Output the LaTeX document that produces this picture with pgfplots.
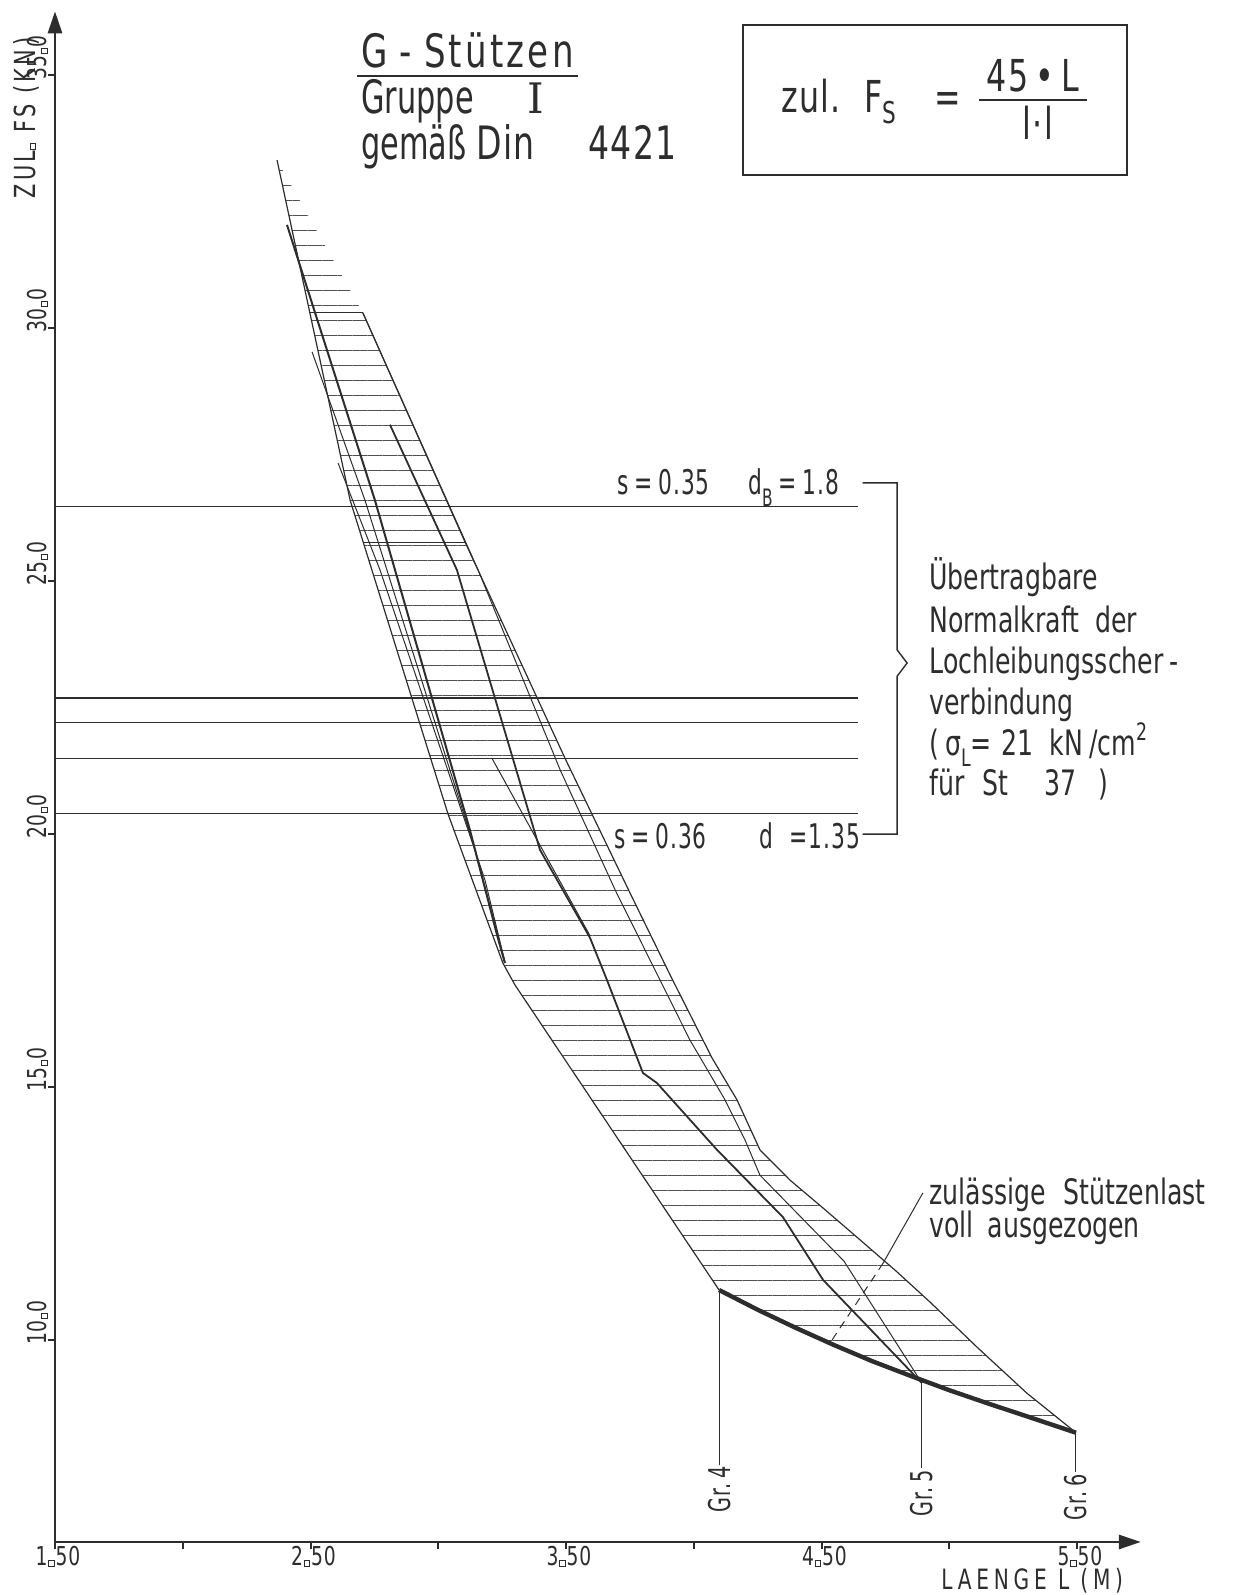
\documentclass[border=0pt]{standalone}
\usepackage{fontspec}
\setmainfont{DejaVu Sans}[FakeStretch=0.72]
\newfontfamily\titlefont{DejaVu Sans}[FakeStretch=0.72,LetterSpace=3]
\newfontfamily\titlewide{DejaVu Sans}[FakeStretch=0.74,LetterSpace=7]
\newfontfamily\titlenarrow{DejaVu Sans}[FakeStretch=0.66]
\newfontfamily\labfont{DejaVu Sans}[FakeStretch=0.64,LetterSpace=3]
\newfontfamily\axisfont{DejaVu Sans}[FakeStretch=0.72,LetterSpace=12]
\newfontfamily\xlabfont{DejaVu Sans}[FakeStretch=0.72,LetterSpace=17]
\newfontfamily\tickfont{DejaVu Sans}[FakeStretch=0.72,LetterSpace=4]
\newfontfamily\seriffont{DejaVu Serif}
\usepackage{pgfplots}
\pgfplotsset{compat=1.18}
\usetikzlibrary{patterns.meta,arrows.meta}
\definecolor{ink}{RGB}{45,45,45}
\definecolor{hatch}{RGB}{80,80,80}
\newcommand{\fs}[1]{\fontsize{#1}{#1}\selectfont}
\newcommand{\sq}{\kern0.4pt{\setlength{\fboxsep}{0pt}\setlength{\fboxrule}{0.5pt}\fbox{\rule{0pt}{2.2pt}\rule{2.2pt}{0pt}}}\kern0.4pt}
\begin{document}
\begin{tikzpicture}
\begin{axis}[
  x=127.75pt, y=25.3pt,
  xmin=1.5, xmax=5.75, ymin=6, ymax=36.25,
  axis x line=bottom, axis y line=left,
  axis line style={line width=1.4pt, ink},
  x axis line style={-{Triangle[length=11pt,width=7pt]}},
  y axis line style={-{Triangle[length=11pt,width=7pt]}},
  xtick={1.5,2,2.5,3,3.5,4,4.5,5,5.5},
  xticklabels={1\sq50,,2\sq50,,3\sq50,,4\sq50,,5\sq50},
  ytick={10,15,20,25,30,35},
  yticklabels={10\sq0,15\sq0,20\sq0,25\sq0,30\sq0,35\sq0},
  tick align=outside, major tick length=3.5pt,
  tick style={line width=1pt, ink},
  xticklabel style={font=\tickfont\fs{13}, text=ink, anchor=north, inner sep=0pt, xshift=1.5pt, yshift=1.5pt},
  yticklabel style={font=\tickfont\fs{13}, text=ink, rotate=90, anchor=south, inner sep=0pt, xshift=8.5pt},
  clip=false,
]
% hatched band
\addplot[draw=none, pattern={Lines[angle=0,distance=7.5pt,line width=0.45pt]}, pattern color=hatch] coordinates {
 (2.369,33.31) (2.655,26.59) (3.038,20.39) (3.253,17.44) (3.300,17.01) (4.099,10.98)
 (4.25,10.59) (4.40,10.23) (4.55,9.89) (4.70,9.57) (4.85,9.28) (5.00,9.00) (5.15,8.74) (5.30,8.49) (5.496,8.16)
 (5.304,8.94) (5.113,9.83) (4.925,10.74) (4.795,11.34) (4.651,11.97) (4.506,12.60) (4.377,13.15) (4.259,13.75)
 (4.169,14.74) (4.071,15.57) (3.911,17.17) (3.754,18.79) (3.496,21.49) (3.105,25.76) (2.705,30.29) (2.369,33.31)};
% horizontal reference lines
\addplot[ink, line width=0.6pt] coordinates {(1.5,26.47) (4.643,26.47)};
\addplot[ink, line width=0.6pt] coordinates {(1.5,22.68) (4.643,22.68)};
\addplot[ink, line width=0.6pt] coordinates {(1.5,22.20) (4.643,22.20)};
\addplot[ink, line width=0.6pt] coordinates {(1.5,21.49) (4.643,21.49)};
\addplot[ink, line width=0.6pt] coordinates {(1.5,20.39) (4.643,20.39)};
% bracket
\addplot[ink, line width=0.7pt] coordinates {(4.661,26.93) (4.796,26.93) (4.796,23.63) (4.835,23.37) (4.796,23.11) (4.796,19.99) (4.661,19.99)};
% left boundary
\addplot[ink, line width=0.6pt] coordinates {(2.369,33.31) (2.655,26.59) (3.038,20.39) (3.253,17.44) (3.300,17.01) (4.099,10.98)};
\addplot[ink, line width=1pt] coordinates {(2.408,32.03) (2.752,26.59) (3.124,20.07) (3.230,18.00) (3.261,17.44)};
\addplot[ink, line width=0.5pt] coordinates {(2.506,29.52) (2.713,26.59) (3.144,19.68) (3.261,17.46)};
\addplot[ink, line width=0.5pt] coordinates {(2.608,27.32) (2.772,25.21) (3.183,19.08) (3.261,17.46)};
% middle lines to Gr.5
\addplot[ink, line width=0.9pt] coordinates {(2.811,28.08) (3.073,25.21) (3.398,19.68) (3.594,17.94) (3.660,17.11) (3.801,15.27) (3.856,15.07) (4.091,13.75) (4.349,12.42) (4.506,11.18) (4.893,9.14)};
\addplot[ink, line width=0.5pt] coordinates {(2.705,30.29) (3.156,25.21) (3.477,21.26) (3.692,18.89) (3.829,17.50) (3.985,15.92) (4.122,14.74) (4.201,13.94) (4.259,13.25) (4.588,11.55) (4.893,9.14)};
\addplot[ink, line width=0.5pt] coordinates {(3.210,21.49) (3.594,17.98)};
% right boundary
\addplot[ink, line width=0.6pt] coordinates {(2.705,30.29) (3.105,25.76) (3.496,21.49) (3.754,18.79) (3.911,17.17) (4.071,15.57) (4.169,14.74) (4.259,13.75) (4.377,13.15) (4.506,12.60) (4.651,11.97) (4.795,11.34) (4.925,10.74) (5.113,9.83) (5.304,8.94) (5.496,8.16)};
% caps
\addplot[ink, line width=0.6pt] coordinates {(2.498,30.29) (2.705,30.29)};
\addplot[ink, line width=0.6pt] coordinates {(2.705,25.76) (3.105,25.76)};
% permissible load curve (bold)
\addplot[ink, line width=2.2pt] coordinates {(4.099,10.98) (4.25,10.59) (4.40,10.23) (4.55,9.89) (4.70,9.57) (4.85,9.28) (5.00,9.00) (5.15,8.74) (5.30,8.49) (5.496,8.16)};
% group verticals
\addplot[ink, line width=0.5pt] coordinates {(4.099,10.98) (4.099,7.52)};
\addplot[ink, line width=0.5pt] coordinates {(4.893,9.14) (4.893,7.46)};
\addplot[ink, line width=0.5pt] coordinates {(5.496,8.16) (5.496,7.38)};
% leader
\addplot[ink, line width=0.5pt] coordinates {(4.897,12.90) (4.741,11.51)};
\addplot[ink, line width=0.5pt, dash pattern=on 4pt off 3pt] coordinates {(4.741,11.51) (4.541,9.99)};
\coordinate (TL) at (axis cs:1.28474,36.474);
\end{axis}
\begin{scope}[shift={(TL)},x=0.5pt,y=-0.5pt]
\tikzset{every node/.style={text=ink, inner sep=0pt}}
% title
\node[anchor=base west, font=\titlewide\fs{23}] at (361,68) {G\hspace{6pt}-\hspace{6pt}Stützen};
\draw[ink, line width=1pt] (357,76) -- (578,76);
\node[anchor=base west, font=\titlenarrow\fs{23}] at (361,114) {Gruppe};
\node[anchor=base west, font=\seriffont\fs{21}] at (527,114) {I};
\node[anchor=base west, font=\titlenarrow\fs{23}] at (361,160) {gemäß};
\node[anchor=base west, font=\titlefont\fs{23}] at (476,160) {Din};
\node[anchor=base west, font=\titlefont\fs{23}] at (588,160) {4421};
% formula box
\draw[ink, line width=1pt] (743,25) rectangle (1127,175);
\node[anchor=base west, font=\titlefont\fs{22}] at (781,113) {zul.};
\node[anchor=base west, font=\titlefont\fs{22}] at (864,113) {F\raisebox{-0.25em}{\fs{15}S}};
\node[anchor=base west, font=\titlefont\fs{22}] at (934,113) {=};
\node[anchor=base, font=\titlefont\fs{22}] at (1033,92) {45\,•\,L};
\draw[ink, line width=1.2pt] (979,100) -- (1087,100);
\node[anchor=base, font=\titlefont\fs{22}] at (1038,140) {l·l};
% s / d labels
\node[anchor=base west, font=\labfont\fs{17}] at (617,495) {s\,=\,0.35};
\node[anchor=base west, font=\labfont\fs{17}] at (748,495) {d\raisebox{-0.35em}{\fs{12}B}\,=\,1.8};
\node[anchor=base west, font=\labfont\fs{17}] at (614,849) {s\,=\,0.36};
\node[anchor=base west, font=\labfont\fs{17}] at (759,849) {d\hspace{8pt}=1.35};
% annotation
\node[anchor=base west, font=\fs{17.5}] at (929,590) {Übertragbare};
\node[anchor=base west, font=\fs{17.5}] at (929,633) {Normalkraft\hspace{8pt}der};
\node[anchor=base west, font=\fs{17.5}] at (929,674) {Lochleibungsscher\hspace{3pt}-};
\node[anchor=base west, font=\fs{17.5}] at (929,715) {verbindung};
\node[anchor=base west, font=\fs{17.5}] at (929,756) {(\,σ\raisebox{-0.3em}{\fs{12}L}=\hspace{5pt}21\hspace{8pt}kN\,/cm\raisebox{0.45em}{\fs{12}2}};
\node[anchor=base west, font=\fs{17.5}] at (929,796) {für\hspace{9pt}St\hspace{18pt}37\hspace{11pt})};
\node[anchor=base west, font=\fs{17.5}] at (929,1205) {zulässige\hspace{9pt}Stützenlast};
\node[anchor=base west, font=\fs{17.5}] at (929,1238) {voll\hspace{7pt}ausgezogen};
% group labels
\node[rotate=90, anchor=east, font=\labfont\fs{15}] at (720,1466) {Gr.\,4};
\node[rotate=90, anchor=east, font=\labfont\fs{15}] at (922,1470) {Gr.\,5};
\node[rotate=90, anchor=east, font=\labfont\fs{15}] at (1076,1474) {Gr.\,6};
% axis labels
\node[rotate=90, anchor=west, font=\axisfont\fs{14.5}] at (26,199) {ZUL\sq\ FS (KN)};
\node[anchor=base west, font=\xlabfont\fs{14}] at (941,1590) {LAENGE L (M)};
\end{scope}
\pgfresetboundingbox
\path[shift={(TL)},x=0.5pt,y=-0.5pt] (0,0) rectangle (1233,1595);
\end{tikzpicture}
\end{document}
